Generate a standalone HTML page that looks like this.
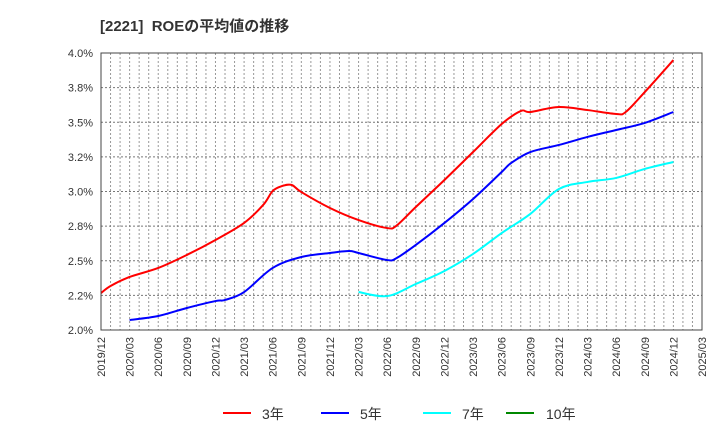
<!DOCTYPE html>
<html><head><meta charset="utf-8"><style>
body{margin:0;background:#fff;font-family:"Liberation Sans","Noto Sans CJK JP",sans-serif;}
svg text{font-family:"Liberation Sans","Noto Sans CJK JP",sans-serif;}
</style></head><body>
<svg id="c" width="720" height="440" xmlns="http://www.w3.org/2000/svg">
<text x="100" y="31" font-size="15" font-weight="bold" fill="#333" xml:space="preserve" style="white-space:pre">[2221]  ROEの平均値の推移</text>
<g id="grid"></g><g id="axes"></g><g id="series"></g>
<rect x="101" y="53" width="601" height="277" fill="none" stroke="#444" stroke-width="1"/>
<g>
<g><line x1="223" y1="413" x2="251" y2="413" stroke="#f00" stroke-width="2"/><text x="262" y="419" font-size="14" fill="#333">3年</text></g>
<g><line x1="321" y1="413" x2="349" y2="413" stroke="#00f" stroke-width="2"/><text x="360" y="419" font-size="14" fill="#333">5年</text></g>
<g><line x1="423" y1="413" x2="451" y2="413" stroke="#0ff" stroke-width="2"/><text x="462" y="419" font-size="14" fill="#333">7年</text></g>
<g><line x1="506" y1="413" x2="534" y2="413" stroke="#080" stroke-width="2"/><text x="546" y="419" font-size="14" fill="#333">10年</text></g>
</g>
</svg>
<script>
const yTicks=[2.0,2.25,2.5,2.75,3.0,3.25,3.5,3.75,4.0];
const yTickLabels=["2.0%","2.2%","2.5%","2.8%","3.0%","3.2%","3.5%","3.8%","4.0%"];
const xTickLabels=["2019/12","2020/03","2020/06","2020/09","2020/12","2021/03","2021/06","2021/09","2021/12","2022/03","2022/06","2022/09","2022/12","2023/03","2023/06","2023/09","2023/12","2024/03","2024/06","2024/09","2024/12","2025/03"];
const redMonths=["2019/12","2020/01","2020/03","2020/06","2020/09","2020/12","2021/03","2021/05","2021/06","2021/07","2021/08","2021/09","2021/12","2022/03","2022/06","2022/07","2022/09","2022/12","2023/03","2023/06","2023/08","2023/09","2023/12","2024/03","2024/06","2024/07","2024/09","2024/12"];
const redValues=[2.267,2.318,2.383,2.448,2.542,2.650,2.773,2.903,3.004,3.040,3.047,2.996,2.881,2.794,2.736,2.755,2.888,3.083,3.285,3.487,3.581,3.574,3.610,3.588,3.560,3.574,3.718,3.949];
const blueMonths=["2020/03","2020/06","2020/09","2020/12","2021/01","2021/03","2021/06","2021/09","2021/12","2022/02","2022/03","2022/06","2022/07","2022/09","2022/12","2023/03","2023/06","2023/07","2023/09","2023/12","2024/03","2024/06","2024/09","2024/12"];
const blueValues=[2.072,2.101,2.159,2.209,2.217,2.274,2.448,2.527,2.556,2.570,2.556,2.505,2.520,2.614,2.773,2.946,3.141,3.206,3.285,3.336,3.394,3.444,3.495,3.574];
const cyanMonths=["2022/03","2022/06","2022/09","2022/12","2023/03","2023/06","2023/09","2023/12","2024/03","2024/06","2024/09","2024/12"];
const cyanValues=[2.274,2.245,2.332,2.426,2.549,2.700,2.838,3.018,3.069,3.098,3.163,3.213];
const X0=101,X1=702,Y0=330,Y1=53;
const NS="http://www.w3.org/2000/svg";
function mi(s){const[a,b]=s.split("/").map(Number);return (a-2019)*12+b-12;}
function xS(s){return X0+mi(s)*(X1-X0)/63;}
function yS(v){return Y0-(v-2.0)/2.0*(Y0-Y1);}
function mk(t,a,p){const e=document.createElementNS(NS,t);for(const k in a)e.setAttribute(k,a[k]);p.appendChild(e);return e;}
const grid=document.getElementById("grid"),axes=document.getElementById("axes"),ser=document.getElementById("series");
for(let m=1;m<63;m++){const x=X0+m*(X1-X0)/63;
const l=mk("line",{x1:x,x2:x,y1:Y1,y2:Y0,stroke:"#999","stroke-dasharray":"2,2"},grid);

}
yTicks.forEach((v,i)=>{const y=yS(v);
if(i>0&&i<yTicks.length-1){const l=mk("line",{x1:X0,x2:X1,y1:y,y2:y,stroke:"#777","stroke-dasharray":"2,2"},grid);

}
const t=mk("text",{x:93,y:y+4,"font-size":"11","text-anchor":"end",fill:"#333"},axes);t.textContent=yTickLabels[i];

});
xTickLabels.forEach(s=>{const x=xS(s);
const t=mk("text",{x:0,y:0,"font-size":"11","text-anchor":"end",fill:"#333",transform:`translate(${x+4},337) rotate(-90)`},axes);t.textContent=s;

});
function smooth(pts){let d="M"+pts[0][0]+","+pts[0][1];
for(let i=0;i<pts.length-1;i++){const p0=pts[Math.max(i-1,0)],p1=pts[i],p2=pts[i+1],p3=pts[Math.min(i+2,pts.length-1)];
const c1=[p1[0]+(p2[0]-p0[0])/6,p1[1]+(p2[1]-p0[1])/6],c2=[p2[0]-(p3[0]-p1[0])/6,p2[1]-(p3[1]-p1[1])/6];
d+=" C"+c1[0]+","+c1[1]+" "+c2[0]+","+c2[1]+" "+p2[0]+","+p2[1];}return d;}
function line(ms,vs,c,n){const pts=ms.map((m,i)=>[xS(m),yS(vs[i])]);
const p=mk("path",{d:smooth(pts),fill:"none",stroke:c,"stroke-width":"2","stroke-linejoin":"round"},ser);

}
line(cyanMonths,cyanValues,"#0ff","series-7y");
line(blueMonths,blueValues,"#00f","series-5y");
line(redMonths,redValues,"#f00","series-3y");
</script>
</body></html>
